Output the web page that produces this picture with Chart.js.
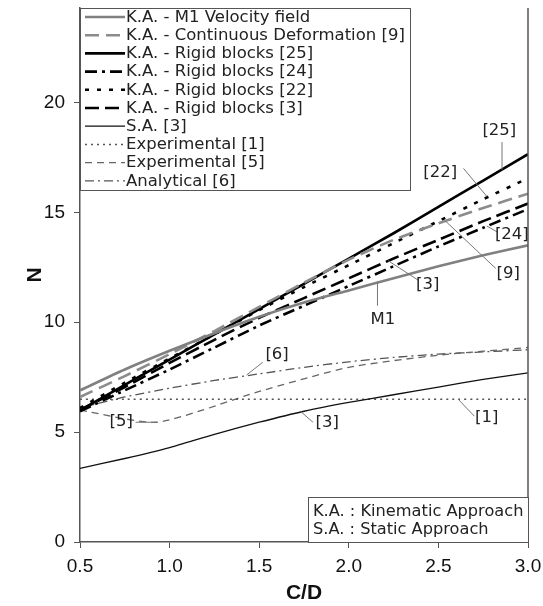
<!DOCTYPE html>
<html>
<head>
<meta charset="utf-8">
<script src="https://cdn.jsdelivr.net/npm/chart.js@4/dist/chart.umd.min.js"></script>
<style>
  html, body { margin: 0; padding: 0; background: #fff; }
</style>
</head>
<body>
<canvas id="nChart" width="543" height="606"></canvas>
<script>
// C/D values shared by most curves
const cdValues = [0.5, 0.75, 1.0, 1.25, 1.5, 1.75, 2.0, 2.25, 2.5, 2.75, 3.0];

// Kinematic approach (K.A.) curves
const nM1 = [6.9, 7.85, 8.7, 9.5, 10.25, 10.9, 11.45, 12.0, 12.55, 13.05, 13.5];
const nContDef9 = [6.6, 7.55, 8.55, 9.6, 10.7, 11.8, 12.85, 13.75, 14.5, 15.2, 15.85];
const nRigid25 = [6.0, 7.15, 8.3, 9.45, 10.6, 11.75, 12.9, 14.05, 15.25, 16.45, 17.65];
const nRigid24 = [5.95, 6.9, 7.85, 8.85, 9.85, 10.75, 11.65, 12.55, 13.45, 14.3, 15.15];
const nRigid22 = [6.1, 7.25, 8.35, 9.45, 10.55, 11.6, 12.6, 13.6, 14.6, 15.6, 16.55];
const nRigid3 = [6.0, 7.05, 8.15, 9.2, 10.2, 11.1, 12.0, 12.9, 13.75, 14.6, 15.4];

// Static approach, experiments, analytical
const nStatic3 = [3.35, 3.8, 4.3, 4.9, 5.45, 5.95, 6.35, 6.7, 7.05, 7.4, 7.7];
const cdExp1 = [0.5, 3.0];
const nExp1 = [6.5, 6.5];
const cdExp5 = [0.5, 0.93, 1.5, 2.0, 2.5, 3.0];
const nExp5 = [6.0, 5.45, 6.85, 7.95, 8.5, 8.85];
const nAnalytical6 = [6.1, 6.6, 7.0, 7.35, 7.65, 7.95, 8.2, 8.4, 8.55, 8.65, 8.75];

const yTicks = [0, 5, 10, 15, 20];

// curve tags: text position and leader line, all in data units
const curveTags = [
  { text: "[25]", tx: 2.84, ty: 18.7, from: [2.855, 18.2], to: [2.855, 16.95] },
  { text: "[22]", tx: 2.51, ty: 16.8, from: [2.64, 17.0], to: [2.77, 15.73] },
  { text: "[24]", tx: 2.91, ty: 13.95, from: [2.83, 14.1], to: [2.77, 14.38] },
  { text: "[9]", tx: 2.89, ty: 12.2, from: [2.82, 12.45], to: [2.54, 14.6] },
  { text: "[3]", tx: 2.44, ty: 11.7, from: [2.39, 11.9], to: [2.22, 12.8] },
  { text: "M1", tx: 2.19, ty: 10.1, from: [2.16, 10.75], to: [2.16, 11.85] },
  { text: "[6]", tx: 1.6, ty: 8.5, from: [1.52, 8.18], to: [1.43, 7.6] },
  { text: "[5]", tx: 0.73, ty: 5.45, from: [0.81, 5.45], to: [0.93, 5.45] },
  { text: "[3]", tx: 1.88, ty: 5.4, from: [1.8, 5.45], to: [1.73, 5.95] },
  { text: "[1]", tx: 2.77, ty: 5.65, from: [2.7, 5.73], to: [2.61, 6.5] },
];

const notes = ["K.A. : Kinematic Approach", "S.A. : Static Approach"];

function pairs(xs, ys) {
  return xs.map((x, i) => ({ x: x, y: ys[i] }));
}

function curve(label, xs, ys, color, width, dash) {
  return {
    label: label,
    data: pairs(xs, ys),
    borderColor: color,
    borderWidth: width,
    borderDash: dash,
    pointRadius: 0,
    fill: false,
    tension: 0.2,
  };
}

const datasets = [
  curve("K.A. - M1 Velocity field", cdValues, nM1, "#808080", 2.6, []),
  curve("K.A. - Continuous Deformation [9]", cdValues, nContDef9, "#8c8c8c", 2.6, [14, 7]),
  curve("K.A. - Rigid blocks [25]", cdValues, nRigid25, "#000", 2.6, []),
  curve("K.A. - Rigid blocks [24]", cdValues, nRigid24, "#000", 2.6, [12, 5, 3, 5]),
  curve("K.A. - Rigid blocks [22]", cdValues, nRigid22, "#000", 2.6, [4, 8]),
  curve("K.A. - Rigid blocks [3]", cdValues, nRigid3, "#000", 2.6, [14, 6]),
  curve("S.A. [3]", cdValues, nStatic3, "#111", 1.3, []),
  curve("Experimental [1]", cdExp1, nExp1, "#555", 1.5, [2, 4]),
  curve("Experimental [5]", cdExp5, nExp5, "#666", 1.3, [7, 5]),
  curve("Analytical [6]", cdValues, nAnalytical6, "#555", 1.3, [9, 4, 2, 4]),
];

// the annotation font is a wide sans, so stretch DejaVu a little
function wideText(ctx, text, x, y, align, stretch) {
  ctx.save();
  ctx.translate(x, y);
  ctx.scale(stretch || 1.1, 1);
  ctx.textAlign = align;
  ctx.fillText(text, 0, 0);
  ctx.restore();
}

// legend box, curve tags, right frame and note box drawn on top of the plot
const overlayPlugin = {
  id: "overlay",
  afterDatasetsDraw(chart) {
    const { ctx, chartArea, scales } = chart;
    const sx = scales.x, sy = scales.y;
    ctx.save();

    // right frame line
    ctx.strokeStyle = "#555";
    ctx.lineWidth = 1.5;
    ctx.beginPath();
    ctx.moveTo(chartArea.right, chartArea.top);
    ctx.lineTo(chartArea.right, chartArea.bottom);
    ctx.stroke();

    // tags with leader lines
    ctx.font = '15px "DejaVu Sans"';
    ctx.textBaseline = "middle";
    curveTags.forEach((t) => {
      ctx.strokeStyle = "#777";
      ctx.lineWidth = 1;
      ctx.setLineDash([]);
      ctx.beginPath();
      ctx.moveTo(sx.getPixelForValue(t.from[0]), sy.getPixelForValue(t.from[1]));
      ctx.lineTo(sx.getPixelForValue(t.to[0]), sy.getPixelForValue(t.to[1]));
      ctx.stroke();
      ctx.fillStyle = "#222";
      wideText(ctx, t.text, sx.getPixelForValue(t.tx), sy.getPixelForValue(t.ty), "center");
    });

    // legend box
    const boxL = chartArea.left, boxT = chartArea.top, boxR = 410, boxB = 190;
    ctx.fillStyle = "#fff";
    ctx.fillRect(boxL, boxT, boxR - boxL, boxB - boxT);
    ctx.strokeStyle = "#555";
    ctx.lineWidth = 1;
    ctx.strokeRect(boxL + 0.5, boxT + 0.5, boxR - boxL, boxB - boxT);
    chart.data.datasets.forEach((ds, i) => {
      const rowY = boxT + 9 + i * 18.2;
      ctx.strokeStyle = ds.borderColor;
      ctx.lineWidth = ds.borderWidth;
      ctx.setLineDash(ds.borderDash);
      ctx.beginPath();
      ctx.moveTo(boxL + 5, rowY);
      ctx.lineTo(boxL + 45, rowY);
      ctx.stroke();
      ctx.setLineDash([]);
      ctx.fillStyle = "#222";
      wideText(ctx, ds.label, boxL + 46, rowY + 1, "left");
    });

    // note box, lower right
    const nL = 308, nT = 497;
    ctx.fillStyle = "#fff";
    ctx.fillRect(nL, nT, chartArea.right - nL, chartArea.bottom - nT);
    ctx.strokeStyle = "#555";
    ctx.lineWidth = 1;
    ctx.strokeRect(nL + 0.5, nT + 0.5, chartArea.right - nL, chartArea.bottom - nT);
    ctx.fillStyle = "#222";
    notes.forEach((n, i) => {
      wideText(ctx, n, nL + 5, nT + 15 + i * 18.5, "left", 1.08);
    });

    ctx.restore();
  },
};

const ctx = document.getElementById("nChart").getContext("2d");
new Chart(ctx, {
  type: "line",
  data: { datasets: datasets },
  plugins: [overlayPlugin],
  options: {
    responsive: false,
    animation: false,
    layout: { padding: { top: 8, right: 15, left: 0, bottom: 0 } },
    plugins: { legend: { display: false }, tooltip: { enabled: false } },
    scales: {
      x: {
        type: "linear",
        min: 0.5,
        max: 3.0,
        border: { color: "#555", width: 1.5 },
        grid: { drawOnChartArea: false, drawTicks: true, tickLength: 6, color: "#555" },
        ticks: {
          stepSize: 0.5,
          maxRotation: 0,
          padding: 7,
          color: "#111",
          font: { family: "Liberation Sans", size: 19 },
          callback: (v) => v.toFixed(1),
        },
        title: {
          display: true,
          text: "C/D",
          color: "#111",
          padding: { top: 2, bottom: 0 },
          font: { family: "Liberation Sans", size: 21, weight: "bold" },
        },
        afterFit(scale) {
          scale.height = 64;
          scale.paddingLeft = 0;
          scale.paddingRight = 0;
        },
      },
      y: {
        type: "linear",
        min: 0,
        max: 24.3,
        afterBuildTicks(scale) {
          scale.ticks = yTicks.map((v) => ({ value: v }));
        },
        border: { color: "#555", width: 1.5 },
        grid: { drawOnChartArea: false, drawTicks: true, tickLength: 6, color: "#555" },
        ticks: {
          padding: 9,
          color: "#111",
          font: { family: "Liberation Sans", size: 19 },
        },
        title: {
          display: true,
          text: "N",
          color: "#111",
          padding: { top: 23, bottom: 0 },
          font: { family: "Liberation Sans", size: 21, weight: "bold" },
        },
        afterFit(scale) {
          scale.width = 80;
          scale.paddingTop = 0;
          scale.paddingBottom = 0;
        },
      },
    },
  },
});
</script>
</body>
</html>
